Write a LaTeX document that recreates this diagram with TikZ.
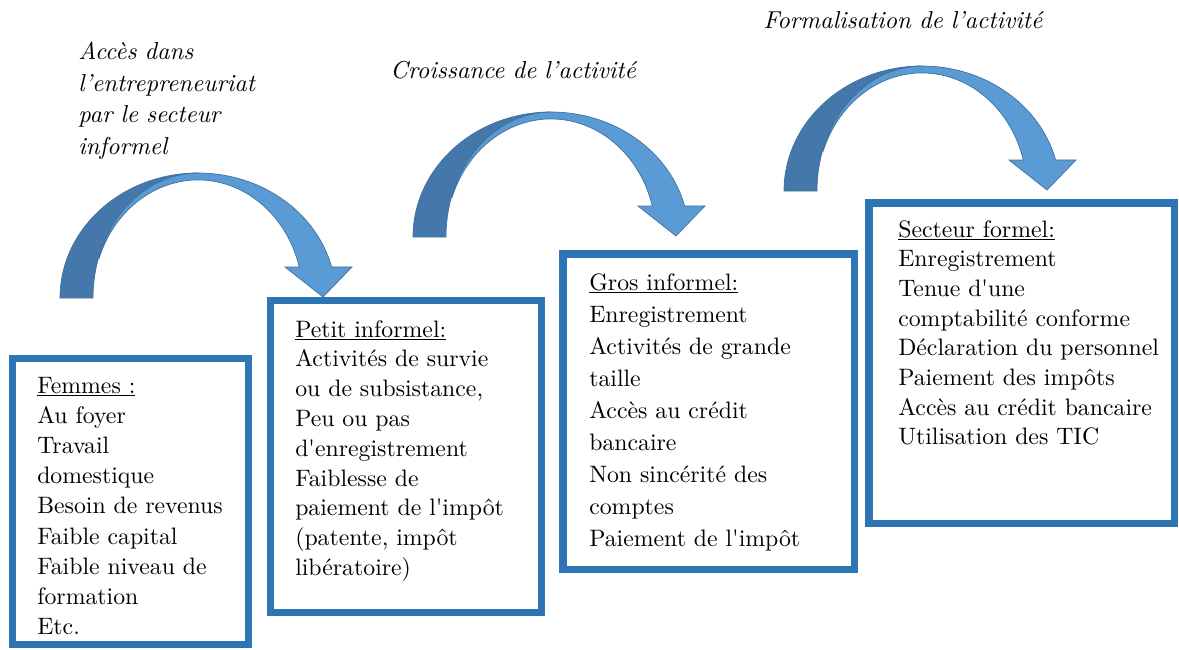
\documentclass[tikz,border=0pt]{standalone}
\usepackage{fontspec}
\setmainfont{lmroman10-regular.otf}[ItalicFont=lmroman10-italic.otf, BoldFont=lmroman10-bold.otf, Ligatures=TeXOff]
\usepackage{tikz}
\usetikzlibrary{positioning}
\definecolor{framecol}{RGB}{46,117,182}
\definecolor{arrowdark}{RGB}{69,120,170}
\definecolor{arrowlight}{RGB}{91,155,213}
\definecolor{arrowedge}{RGB}{65,113,156}
\tikzset{
    bend arrow/.pic = {
    \fill[arrowlight, draw=arrowedge, line width=0.5pt]
      (-98.7,-42.75) arc[start angle=200, end angle=270, x radius=105, y radius=125]
      arc[start angle=270, end angle=345.6, x radius=138, y radius=125]
      -- (154,-31) -- (125,-1) -- (87,-31) -- (101.3,-31)
      arc[start angle=344.8, end angle=200, x radius=105, y radius=118] -- cycle;
    \fill[arrowdark, draw=arrowedge, line width=0.5pt]
      (-138,0) arc[start angle=180, end angle=270, x radius=138, y radius=125]
      arc[start angle=270, end angle=180, x radius=105, y radius=125] -- cycle;
    },
    frame/.style={draw=framecol, line width=5pt, inner sep=0pt, outer sep=0pt, anchor=north west},
    listtext/.style={font=\rmfamily\fontsize{16.9}{#1}\selectfont, text width=8cm, align=left, inner sep=0pt, anchor=base west},
    stage/.style={font=\rmfamily\itshape\fontsize{17.4}{22.4}\selectfont, text width=8cm, align=left, inner sep=0pt, anchor=base west},
}

\begin{document}
\begin{tikzpicture}[x=0.025cm, y=-0.025cm]
    \useasboundingbox (0,0) rectangle (1179,650);

    % curved arrows between the stages
    \pic (acces) at (198,298) {bend arrow};
    \pic (croissance) at (551,237) {bend arrow};
    \pic (formalisation) at (922,191) {bend arrow};

    \node[stage] (c1) at (78,60) {Accès dans\\l’entrepreneuriat\\par le secteur\\informel};
    \node[stage] (c2) at (390,79) {Croissance de l’activité};
    \node[stage] (c3) at (763,29) {Formalisation de l’activité};

    % the four stages
    \node[frame, minimum width=5.9cm, minimum height=7.15cm] (f1) at (12.5,358.5) {};
    \node[frame, minimum width=6.775cm, minimum height=7.7875cm] (f2) at (270.5,300.5) {};
    \node[frame, minimum width=7.2875cm, minimum height=7.8875cm] (f3) at (563,254) {};
    \node[frame, minimum width=7.6375cm, minimum height=8.0125cm] (f4) at (869,203) {};

    \node[listtext=21.5pt] (t1) at ([shift={(24.5,34.5)}]f1.north west)
      {\underline{Femmes :}\\Au foyer\\Travail\\domestique\\Besoin de revenus\\Faible capital\\Faible niveau de\\formation\\Etc.};
    \node[listtext=21.2pt] (t2) at ([shift={(24.5,36.5)}]f2.north west)
      {\underline{Petit informel:}\\Activités de survie\\ou de subsistance,\\Peu ou pas\\d'enregistrement\\Faiblesse de\\paiement de l'impôt\\(patente, impôt\\libératoire)};
    \node[listtext=22.8pt] (t3) at ([shift={(26,36)}]f3.north west)
      {\underline{Gros informel:}\\Enregistrement\\Activités de grande\\taille\\Accès au crédit\\bancaire\\Non sincérité des\\comptes\\Paiement de l'impôt};
    \node[listtext=21.1pt] (t4) at ([shift={(29,34)}]f4.north west)
      {\underline{Secteur formel:}\\Enregistrement\\Tenue d'une\\comptabilité conforme\\Déclaration du personnel\\Paiement des impôts\\Accès au crédit bancaire\\Utilisation des TIC};

\end{tikzpicture}
\end{document}
